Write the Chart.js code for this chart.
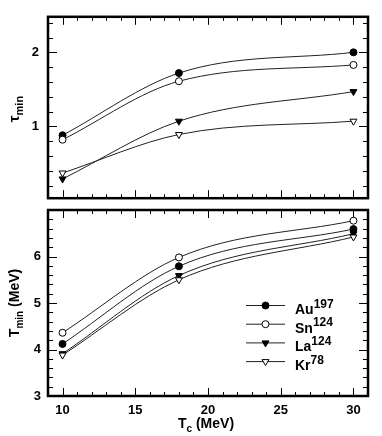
<!DOCTYPE html>
<html>
<head>
<meta charset="utf-8">
<script src="https://cdn.jsdelivr.net/npm/chart.js@4"></script>
<style>
  body { margin: 0; background: #fff; }
  #wrap { position: relative; width: 382px; height: 436px; }
  #c1 { position: absolute; left: 0; top: 0; }
  #c2 { position: absolute; left: 0; top: 195px; }
</style>
</head>
<body>
<div id="wrap">
  <canvas id="c1" width="382" height="215"></canvas>
  <canvas id="c2" width="382" height="241"></canvas>
</div>
<script>
// values
const tc = [10, 18, 30];
const xTicks = [10, 15, 20, 25, 30];
const tauTicks = [1, 2];
const tempTicks = [3, 4, 5, 6];

const nuclei = ['Au', 'Sn', 'La', 'Kr'];
const massNumbers = ['197', '124', '124', '78'];

// tau_min (top panel)
const tauAu = [0.88, 1.72, 2.00];
const tauSn = [0.82, 1.61, 1.83];
const tauLa = [0.29, 1.07, 1.47];
const tauKr = [0.37, 0.89, 1.07];

// T_min in MeV (bottom panel)
const tempAu = [4.12, 5.79, 6.59];
const tempSn = [4.36, 5.98, 6.77];
const tempLa = [3.91, 5.59, 6.49];
const tempKr = [3.88, 5.50, 6.42];

const FONT = '"Liberation Sans", Arial, sans-serif';

// marker look for each nucleus
const markers = [
  { pointStyle: 'circle',   radius: 3.5, rotation: 0,   fill: '#000' },
  { pointStyle: 'circle',   radius: 3.5, rotation: 0,   fill: '#fff' },
  { pointStyle: 'triangle', radius: 4,   rotation: 180, fill: '#000' },
  { pointStyle: 'triangle', radius: 4,   rotation: 180, fill: '#fff' }
];

function makeDatasets(series) {
  return series.map((vals, i) => ({
    label: nuclei[i] + massNumbers[i],
    data: vals.map((v, j) => ({ x: tc[j], y: v })),
    borderColor: '#222',
    borderWidth: 1,
    cubicInterpolationMode: 'monotone',
    pointStyle: markers[i].pointStyle,
    pointRadius: markers[i].radius,
    pointRotation: markers[i].rotation,
    pointBackgroundColor: markers[i].fill,
    pointBorderColor: '#000',
    pointBorderWidth: 1,
    order: 3 - i
  }));
}

function line(ctx, x1, y1, x2, y2) {
  ctx.beginPath();
  ctx.moveTo(x1, y1);
  ctx.lineTo(x2, y2);
  ctx.stroke();
}

// text with sub/superscripts: parts = [[text, shift]] shift 0 normal, 1 sub, -1 sup
function drawRich(ctx, x, y, parts, opts) {
  const big = 'bold ' + opts.size + 'px ' + FONT;
  const small = 'bold ' + opts.small + 'px ' + FONT;
  ctx.save();
  ctx.translate(x, y);
  if (opts.rotate) ctx.rotate(-Math.PI / 2);
  ctx.fillStyle = '#000';
  ctx.textBaseline = 'alphabetic';
  ctx.textAlign = 'left';
  let w = 0;
  parts.forEach(p => { ctx.font = p[1] ? small : big; w += ctx.measureText(p[0]).width; });
  let cx = opts.align === 'left' ? 0 : -w / 2;
  const base = opts.size * 0.36;
  parts.forEach(p => {
    ctx.font = p[1] ? small : big;
    let dy = base;
    if (p[1] === 1) dy = base + opts.size * 0.25;
    if (p[1] === -1) dy = base - opts.size * 0.45;
    ctx.fillText(p[0], cx, dy);
    cx += ctx.measureText(p[0]).width;
  });
  ctx.restore();
}

// inward ticks on all four sides plus the heavy frame
const framePlugin = {
  id: 'frame',
  beforeDatasetsDraw(chart) {
    const { ctx, chartArea: a, scales: { x, y } } = chart;
    ctx.save();
    ctx.strokeStyle = '#000';
    ctx.lineWidth = 1;
    for (let v = Math.ceil(x.min); v <= x.max; v++) {
      const px = Math.round(x.getPixelForValue(v)) + 0.5;
      const len = v % 5 === 0 ? 8 : 4;
      line(ctx, px, a.bottom, px, a.bottom - len);
      line(ctx, px, a.top, px, a.top + len);
    }
    for (let k = Math.ceil(y.min * 5); k <= Math.floor(y.max * 5); k++) {
      const py = Math.round(y.getPixelForValue(k / 5)) + 0.5;
      const len = k % 5 === 0 ? 9 : 5;
      line(ctx, a.left, py, a.left + len, py);
      line(ctx, a.right, py, a.right - len, py);
    }
    ctx.restore();
  },
  afterDatasetsDraw(chart) {
    const { ctx, chartArea: a } = chart;
    ctx.save();
    ctx.strokeStyle = '#000';
    ctx.lineWidth = 2.5;
    ctx.strokeRect(a.left, a.top, a.right - a.left, a.bottom - a.top);
    ctx.restore();
  }
};

// axis titles with subscripts
const titlePlugin = {
  id: 'titles',
  afterDraw(chart, args, opts) {
    const ctx = chart.ctx;
    (opts.items || []).forEach(t => drawRich(ctx, t.x, t.y, t.parts, t));
  }
};

// legend with superscript mass numbers
const legendPlugin = {
  id: 'nucLegend',
  afterDraw(chart, args, opts) {
    if (!opts.show) return;
    const ctx = chart.ctx;
    chart.data.datasets.forEach((ds, i) => {
      const ry = opts.top + i * opts.step;
      ctx.save();
      ctx.strokeStyle = '#222';
      ctx.lineWidth = 1;
      line(ctx, opts.x1, ry + 0.5, opts.x2, ry + 0.5);
      ctx.fillStyle = markers[i].fill;
      ctx.strokeStyle = '#000';
      Chart.helpers.drawPoint(ctx, {
        pointStyle: markers[i].pointStyle,
        radius: markers[i].radius,
        rotation: markers[i].rotation,
        borderWidth: 1
      }, (opts.x1 + opts.x2) / 2, ry + 0.5);
      ctx.restore();
      drawRich(ctx, opts.textX, ry + 4, [[nuclei[i], 0], [massNumbers[i], -1]],
        { size: 14, small: 12, align: 'left' });
    });
  }
};

function makeChart(id, series, yMin, yMax, yTicks, cfg) {
  return new Chart(document.getElementById(id), {
    type: 'line',
    data: { datasets: makeDatasets(series) },
    plugins: [framePlugin, titlePlugin, legendPlugin],
    options: {
      responsive: false,
      animation: false,
      events: [],
      layout: { padding: { left: 0, right: 14, top: cfg.padTop, bottom: cfg.padBottom } },
      plugins: {
        legend: { display: false },
        tooltip: { enabled: false },
        titles: { items: cfg.titles },
        nucLegend: cfg.legend
      },
      scales: {
        x: {
          type: 'linear',
          display: cfg.xLabels,
          min: 9,
          max: 31,
          afterBuildTicks: s => { s.ticks = xTicks.map(v => ({ value: v })); },
          afterFit: s => { s.height = cfg.xHeight; },
          grid: { display: false, drawTicks: false },
          border: { display: false },
          ticks: {
            padding: 7,
            color: '#000',
            font: { family: FONT, weight: 'bold', size: 13 }
          }
        },
        y: {
          type: 'linear',
          min: yMin,
          max: yMax,
          afterBuildTicks: s => { s.ticks = yTicks.map(v => ({ value: v })); },
          afterFit: s => { s.width = 48; },
          grid: { display: false, drawTicks: false },
          border: { display: false },
          ticks: {
            padding: cfg.yPad,
            color: '#000',
            font: { family: FONT, weight: 'bold', size: 13 }
          }
        }
      }
    }
  });
}

// top panel: tau_min
makeChart('c1', [tauAu, tauSn, tauLa, tauKr], 0.03, 2.48, tauTicks, {
  padTop: 15,
  padBottom: 14,
  xHeight: 0,
  xLabels: false,
  yPad: 9,
  titles: [{ x: 14, y: 109, rotate: true, size: 15, small: 11, parts: [['\u03c4', 0], ['min', 1]] }],
  legend: { show: false }
});

// bottom panel: T_min
makeChart('c2', [tempAu, tempSn, tempLa, tempKr], 3, 7, tempTicks, {
  padTop: 15,
  padBottom: 0,
  xHeight: 40,
  xLabels: true,
  yPad: 7,
  titles: [
    { x: 14, y: 108, rotate: true, size: 14, small: 10, parts: [['T', 0], ['min', 1], [' (MeV)', 0]] },
    { x: 206, y: 228, rotate: false, size: 14, small: 10, parts: [['T', 0], ['c', 1], [' (MeV)', 0]] }
  ],
  legend: { show: true, top: 110, step: 18.7, x1: 246, x2: 285, textX: 295 }
});
</script>
</body>
</html>
